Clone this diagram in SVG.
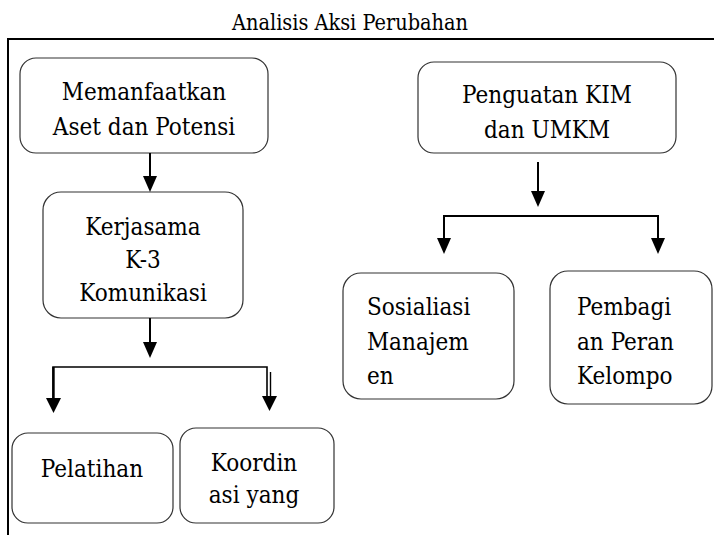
<svg xmlns="http://www.w3.org/2000/svg" width="714" height="537" viewBox="0 0 714 537">
<style>
.box{fill:#fff;stroke:#333;stroke-width:1.2}
.ln{stroke:#000;stroke-width:2;fill:none}
.hd{fill:#000}
</style>
<defs>
<clipPath id="clipK"><rect x="43" y="192" width="200" height="111"/></clipPath>
<clipPath id="clipKo"><rect x="180" y="428" width="154" height="80"/></clipPath>
</defs>
<rect width="714" height="537" fill="#fff"/>
<g font-family="'DejaVu Serif Condensed', 'DejaVu Serif', 'Liberation Serif', serif" font-size="24" fill="#000">
<text x="350" y="30" font-size="21.5" text-anchor="middle">Analisis Aksi Perubahan</text>
<g id="frame">
<line class="ln" x1="7" y1="39" x2="714" y2="39"/>
<line class="ln" x1="8" y1="38" x2="8" y2="535"/>
</g>
<g id="n1">
<rect class="box" x="20" y="58" width="248" height="95" rx="16"/>
<text x="144" y="100" text-anchor="middle">Memanfaatkan</text>
<text x="144" y="135" text-anchor="middle">Aset dan Potensi</text>
</g>
<g id="n2">
<rect class="box" x="43" y="192" width="200" height="126" rx="18"/>
<g clip-path="url(#clipK)">
<text x="143" y="235" text-anchor="middle">Kerjasama</text>
<text x="143" y="268" text-anchor="middle">K-3</text>
<text x="143" y="301" text-anchor="middle">Komunikasi</text>
</g>
</g>
<g id="n3">
<rect class="box" x="418" y="62" width="258" height="91" rx="16"/>
<text x="547" y="103" text-anchor="middle">Penguatan KIM</text>
<text x="547" y="138" text-anchor="middle">dan UMKM</text>
</g>
<g id="n4">
<rect class="box" x="343" y="273" width="171" height="126" rx="18"/>
<text x="367" y="315">Sosialiasi</text>
<text x="367" y="350">Manajem</text>
<text x="367" y="384">en</text>
</g>
<g id="n5">
<rect class="box" x="550" y="271" width="162" height="133" rx="18"/>
<text x="577" y="315">Pembagi</text>
<text x="577" y="350">an Peran</text>
<text x="577" y="384">Kelompo</text>
</g>
<g id="n6">
<rect class="box" x="12" y="433" width="161" height="90" rx="16"/>
<text x="92" y="477" text-anchor="middle">Pelatihan</text>
</g>
<g id="n7">
<rect class="box" x="180" y="428" width="154" height="95" rx="16"/>
<g clip-path="url(#clipKo)">
<text x="254" y="471" text-anchor="middle">Koordin</text>
<text x="254" y="503" text-anchor="middle">asi yang</text>
</g>
</g>
</g>
<g id="connectors">
<line class="ln" x1="150" y1="153" x2="150" y2="177"/>
<polygon class="hd" points="143,176 157,176 150,192"/>
<line class="ln" x1="150" y1="318" x2="150" y2="343"/>
<polygon class="hd" points="143,342 157,342 150,358"/>
<polyline class="ln" points="53,398 53,367 267,367 267,396" style="stroke-width:1.6"/>
<line class="ln" x1="53.5" y1="367" x2="53.5" y2="399" style="stroke-width:2.4"/>
<line class="ln" x1="270.5" y1="372" x2="270.5" y2="396" style="stroke-width:1.4"/>
<polygon class="hd" points="46,398 61,398 53.5,413"/>
<polygon class="hd" points="262,396 277,396 269.5,411"/>
<line class="ln" x1="538" y1="162" x2="538" y2="192"/>
<polygon class="hd" points="531,191 545,191 538,207"/>
<polyline class="ln" points="444,239 444,216 658,216 658,239"/>
<polygon class="hd" points="437,238 451,238 444,254"/>
<polygon class="hd" points="651,238 665,238 658,254"/>
</g>
</svg>
